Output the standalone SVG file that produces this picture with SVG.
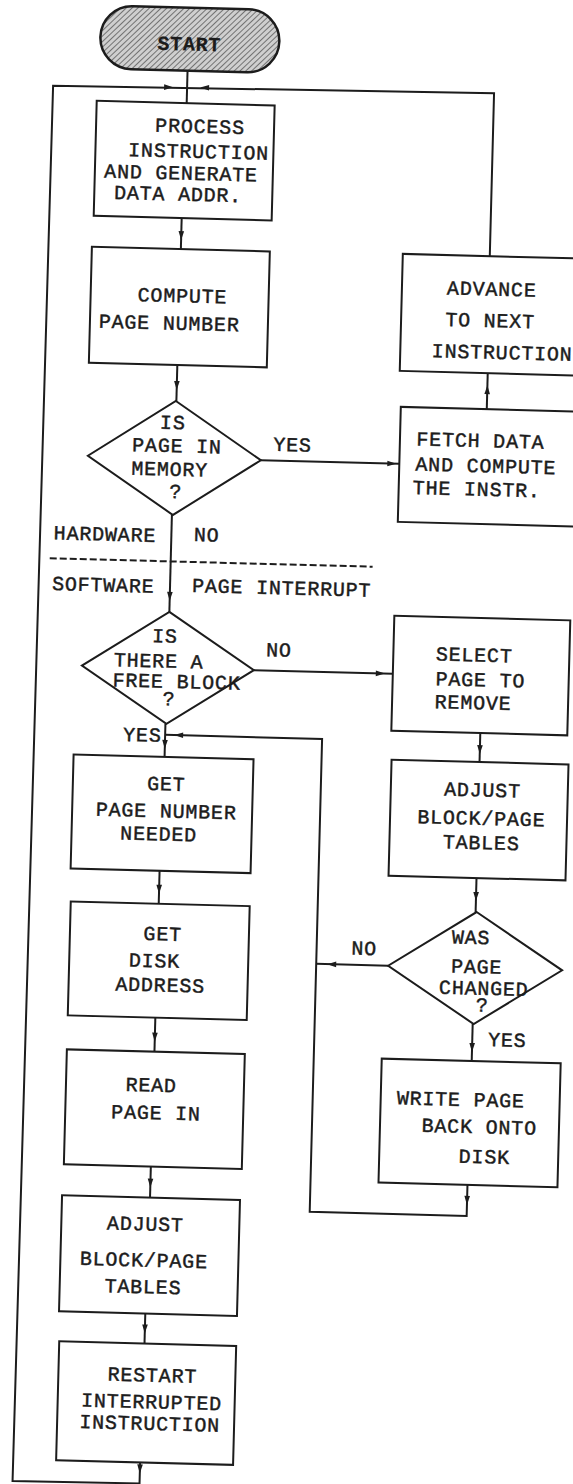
<svg xmlns="http://www.w3.org/2000/svg" xmlns:xlink="http://www.w3.org/1999/xlink" width="573" height="1484" viewBox="0 0 573 1484">
  <style>
    .box { fill: #ffffff; stroke: #1c1c1c; stroke-width: 2; }
    .ln { fill: none; stroke: #1c1c1c; stroke-width: 2; }
    .dash { fill: none; stroke: #1c1c1c; stroke-width: 2; stroke-dasharray: 7 3; }
    text { font-family: "Liberation Mono", "Courier New", monospace; font-size: 20px; letter-spacing: 0.8px; fill: #1c1c1c; stroke: #1c1c1c; stroke-width: 0.45; text-anchor: middle; }
    .bold { font-weight: bold; stroke-width: 0.2; }
  </style>
  <defs>
    <pattern id="hatch" width="4" height="4" patternUnits="userSpaceOnUse" patternTransform="rotate(45)">
      <rect width="4" height="4" fill="#cfcfcf"/>
      <line x1="0" y1="0" x2="0" y2="4" stroke="#4a4a4a" stroke-width="1.4"/>
    </pattern>
    <!-- arrowhead pointing down, tip at origin -->
    <path id="ah" d="M0,0 L-2.8,-9 L2.8,-9 Z" fill="#1c1c1c"/>
  </defs>

  <rect width="573" height="1484" fill="#ffffff"/>

  <g transform="rotate(1.5 286 742)">
    <g id="connectors">
      <path class="ln" d="M170,73.5 V106"/>
      <!-- restart loop back to the top -->
      <path class="ln" d="M159,1466 V1487 L32,1488 L36,92 L477,88 V251"/>
      <use xlink:href="#ah" transform="translate(156,90.5) rotate(-90)"/>
      <use xlink:href="#ah" transform="translate(183,90) rotate(90)"/>

      <path class="ln" d="M168,221 V252"/>
      <use xlink:href="#ah" transform="translate(168,243)"/>
      <path class="ln" d="M167.5,368 V404"/>
      <use xlink:href="#ah" transform="translate(167.5,393)"/>

      <path class="ln" d="M253.5,461 H392"/>
      <use xlink:href="#ah" transform="translate(389,461) rotate(-90)"/>
      <path class="ln" d="M478,404 V368"/>
      <use xlink:href="#ah" transform="translate(478,380) rotate(180)"/>

      <path class="ln" d="M166,518 V615"/>
      <use xlink:href="#ah" transform="translate(166,604)"/>
      <path class="dash" d="M45,564.5 H368"/>

      <path class="ln" d="M252,671 H391"/>
      <use xlink:href="#ah" transform="translate(383,671) rotate(-90)"/>
      <path class="ln" d="M480,728 V757"/>
      <use xlink:href="#ah" transform="translate(480,749)"/>
      <path class="ln" d="M480,873 V907"/>
      <use xlink:href="#ah" transform="translate(480,896)"/>
      <path class="ln" d="M480,1019 V1056"/>
      <use xlink:href="#ah" transform="translate(480,1047)"/>

      <!-- return path after the page is written out -->
      <path class="ln" d="M479,1180 V1211 H322 V738 H165"/>
      <use xlink:href="#ah" transform="translate(479,1200)"/>
      <use xlink:href="#ah" transform="translate(174,738) rotate(90)"/>
      <path class="ln" d="M394,963 H322"/>
      <use xlink:href="#ah" transform="translate(333,963) rotate(90)"/>

      <path class="ln" d="M165,727 V760"/>
      <use xlink:href="#ah" transform="translate(165,752)"/>
      <path class="ln" d="M163,874 V907"/>
      <use xlink:href="#ah" transform="translate(163,897)"/>
      <path class="ln" d="M162.6,1021 V1055"/>
      <use xlink:href="#ah" transform="translate(162.6,1045)"/>
      <path class="ln" d="M162,1170 V1201"/>
      <use xlink:href="#ah" transform="translate(162,1191)"/>
      <path class="ln" d="M160.3,1317 V1347"/>
      <use xlink:href="#ah" transform="translate(160.3,1337)"/>
      <use xlink:href="#ah" transform="translate(159,1477)"/>
    </g>

    <g id="labels">
      <text x="284.8" y="451.3">YES</text>
      <text x="99.6" y="545.5">HARDWARE</text>
      <text x="201.3" y="543.6">NO</text>
      <text x="99.2" y="596.3">SOFTWARE</text>
      <text x="277.7" y="594.6">PAGE INTERRUPT</text>
      <text x="276.6" y="656.7">NO</text>
      <text x="142.3" y="745.2">YES</text>
      <text x="369.6" y="952.8">NO</text>
      <text x="515" y="1040.7">YES</text>
    </g>

    <g id="start">
      <rect x="82" y="10.5" width="179" height="63" rx="31.5" fill="url(#hatch)" stroke="#1c1c1c" stroke-width="2.5"/>
      <text class="bold" x="171.1" y="53.3">START</text>
    </g>

    <g id="process-instruction">
      <rect class="box" x="80" y="106" width="178" height="115"/>
      <text x="184" y="135.4">PROCESS</text>
      <text x="183.2" y="160.5">INSTRUCTION</text>
      <text x="166.2" y="182.5">AND GENERATE</text>
      <text x="163.8" y="203.6">DATA ADDR.</text>
    </g>

    <g id="compute-page">
      <rect class="box" x="79" y="252" width="178" height="116"/>
      <text x="170.9" y="305.2">COMPUTE</text>
      <text x="158.3" y="332.8">PAGE NUMBER</text>
    </g>

    <g id="page-in-memory">
      <polygon class="box" points="167,404 253.5,461 167,518 80.5,461"/>
      <text x="164.5" y="432.1">IS</text>
      <text x="169.3" y="455.3">PAGE IN</text>
      <text x="162.6" y="478.8">MEMORY</text>
      <text x="169.2" y="501.1">?</text>
    </g>

    <g id="advance">
      <rect class="box" x="390" y="251" width="188" height="117"/>
      <text x="479.9" y="290.4">ADVANCE</text>
      <text x="479" y="321.9">TO NEXT</text>
      <text x="491.9" y="353.6">INSTRUCTION</text>
    </g>

    <g id="fetch-data">
      <rect class="box" x="392" y="404" width="186" height="115"/>
      <text x="472.5" y="442.1">FETCH DATA</text>
      <text x="478.6" y="467.3">AND COMPUTE</text>
      <text x="470.1" y="490.8">THE INSTR.</text>
    </g>

    <g id="free-block">
      <polygon class="box" points="166,615 252,671 166,727 80,671"/>
      <text x="162.2" y="645.7">IS</text>
      <text x="156.6" y="670.8">THERE A</text>
      <text x="175.1" y="691">FREE BLOCK</text>
      <text x="167.9" y="708.5">?</text>
    </g>

    <g id="select-page">
      <rect class="box" x="391" y="613" width="176" height="115"/>
      <text x="471.9" y="656.6">SELECT</text>
      <text x="478.7" y="681.4">PAGE TO</text>
      <text x="472" y="704.3">REMOVE</text>
    </g>

    <g id="adjust-tables-right">
      <rect class="box" x="392" y="757" width="177" height="116"/>
      <text x="483.7" y="791.4">ADJUST</text>
      <text x="483.3" y="819.7">BLOCK/PAGE</text>
      <text x="483.8" y="844.1">TABLES</text>
    </g>

    <g id="page-changed">
      <polygon class="box" points="481,907 568,963 481,1019 394,963"/>
      <text x="476.1" y="939">WAS</text>
      <text x="482.5" y="968.2">PAGE</text>
      <text x="490.2" y="989.7">CHANGED</text>
      <text x="489.1" y="1006.4">?</text>
    </g>

    <g id="write-page">
      <rect class="box" x="390" y="1056" width="179" height="124"/>
      <text x="470.1" y="1101.3">WRITE PAGE</text>
      <text x="489.3" y="1128.2">BACK ONTO</text>
      <text x="495.1" y="1158">DISK</text>
    </g>

    <g id="get-page-number">
      <rect class="box" x="74" y="760" width="180" height="114"/>
      <text x="167.4" y="793.6">GET</text>
      <text x="168.1" y="820.6">PAGE NUMBER</text>
      <text x="161.1" y="843.8">NEEDED</text>
    </g>

    <g id="get-disk-address">
      <rect class="box" x="75" y="907" width="179" height="114"/>
      <text x="167.8" y="943.7">GET</text>
      <text x="160.2" y="970.6">DISK</text>
      <text x="166.6" y="994.8">ADDRESS</text>
    </g>

    <g id="read-page">
      <rect class="box" x="75" y="1055" width="178" height="115"/>
      <text x="160.2" y="1095">READ</text>
      <text x="165.8" y="1122.6">PAGE IN</text>
    </g>

    <g id="adjust-tables-left">
      <rect class="box" x="74" y="1201" width="178" height="116"/>
      <text x="158.1" y="1234">ADJUST</text>
      <text x="157.5" y="1270.1">BLOCK/PAGE</text>
      <text x="157.3" y="1296.8">TABLES</text>
    </g>

    <g id="restart">
      <rect class="box" x="75" y="1347" width="177" height="119"/>
      <text x="169" y="1385">RESTART</text>
      <text x="168.9" y="1411.7">INTERRUPTED</text>
      <text x="167.6" y="1433.3">INSTRUCTION</text>
    </g>
  </g>
</svg>
